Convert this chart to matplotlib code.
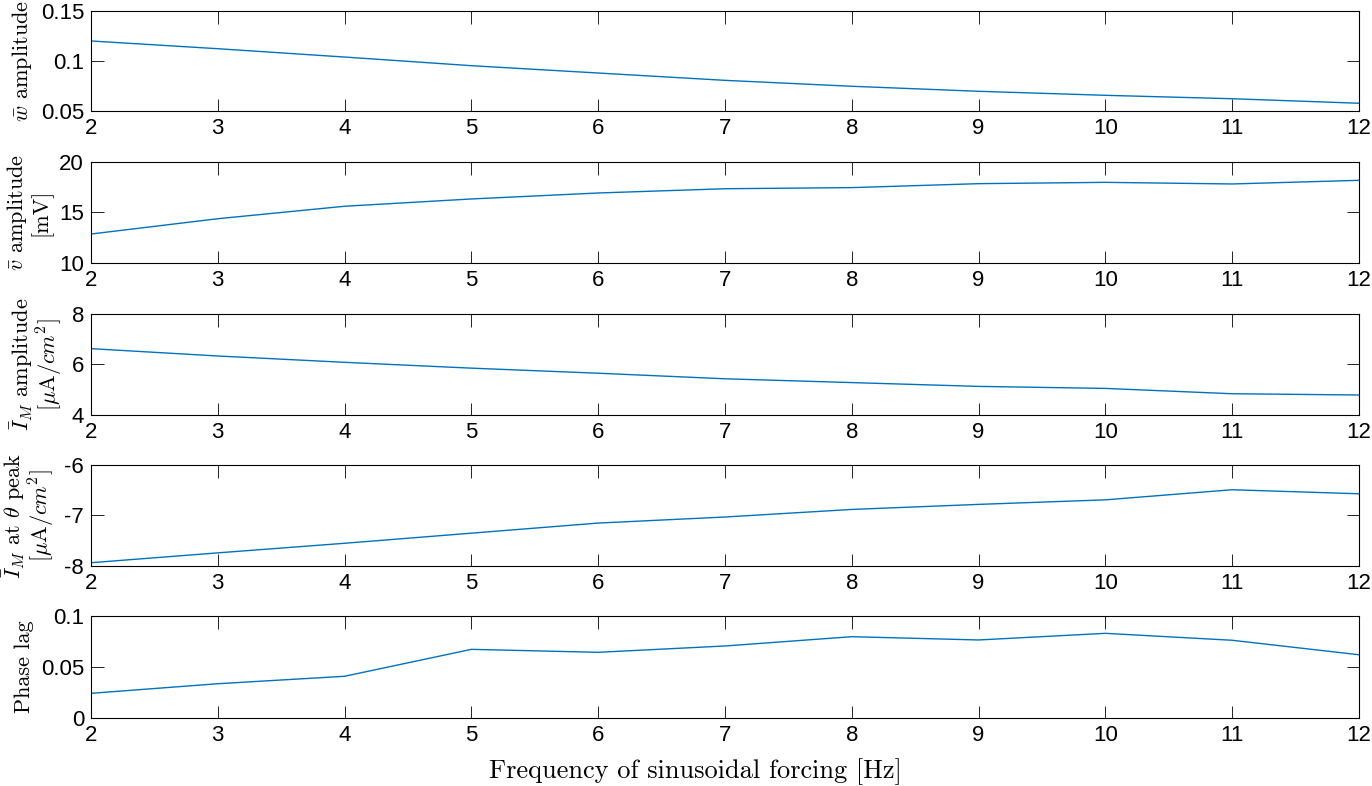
import matplotlib
matplotlib.use("Agg")
import matplotlib.pyplot as plt

freq = [2, 3, 4, 5, 6, 7, 8, 9, 10, 11, 12]
w_amp = [0.1197, 0.112, 0.1037, 0.0951, 0.0878, 0.0805, 0.0746, 0.0696, 0.0656, 0.0622, 0.0577]
v_amp = [12.86, 14.37, 15.6, 16.32, 16.91, 17.33, 17.44, 17.83, 17.96, 17.8, 18.16]
im_amp = [6.62, 6.33, 6.08, 5.85, 5.65, 5.43, 5.28, 5.13, 5.05, 4.84, 4.79]
im_peak = [-7.935, -7.74, -7.55, -7.35, -7.15, -7.03, -6.88, -6.78, -6.69, -6.49, -6.57]
phase_lag = [0.0242, 0.0336, 0.0409, 0.0673, 0.0644, 0.0706, 0.0797, 0.0765, 0.083, 0.0762, 0.062]

series = [w_amp, v_amp, im_amp, im_peak, phase_lag]
ylims = [(0.05, 0.15), (10, 20), (4, 8), (-8, -6), (0, 0.1)]
yticks = [[0.05, 0.1, 0.15], [10, 15, 20], [4, 6, 8], [-8, -7, -6], [0, 0.05, 0.1]]
yticklabels = [["0.05", "0.1", "0.15"], ["10", "15", "20"], ["4", "6", "8"],
               ["-8", "-7", "-6"], ["0", "0.05", "0.1"]]
ylabels = [r"$\bar{w}$ amplitude",
           "$\\bar{v}$ amplitude\n[mV]",
           "$\\bar{I}_M$ amplitude\n[$\\mu$A$/cm^2$]",
           "$\\bar{I}_M$ at $\\theta$ peak\n[$\\mu$A$/cm^2$]",
           "Phase lag"]
xlabel = "Frequency of sinusoidal forcing [Hz]"

plt.rcParams['mathtext.fontset'] = 'cm'
plt.rcParams['axes.unicode_minus'] = False

fig = plt.figure(figsize=(13.72, 7.86), dpi=100)
left, right = 0.0663, 0.9905
bounds = [(0.8588, 0.9866), (0.6654, 0.7943), (0.4720, 0.6009), (0.2799, 0.4084), (0.0865, 0.2163)]
color = '#0072BD'
lab_font = dict(family='cmr10', size=16)
xlab_font = dict(family='cmr10', size=19)
tick_font = dict(family='Liberation Sans', size=16)

for i, (b, t) in enumerate(bounds):
    ax = fig.add_axes([left, b, right - left, t - b])
    ax.plot(freq, series[i], color=color, lw=1.0)
    ax.set_xlim(2, 12)
    ax.set_ylim(*ylims[i])
    ax.set_xticks(freq)
    ax.set_xticklabels([str(f) for f in freq], **tick_font)
    ax.set_yticks(yticks[i])
    ax.set_yticklabels(yticklabels[i], **tick_font)
    ax.tick_params(direction='in', length=9, width=0.6, top=True, right=True, pad=5)
    for s in ax.spines.values():
        s.set_linewidth(0.8)
    ax.set_ylabel(ylabels[i], fontdict=lab_font, linespacing=1.0, labelpad=5)
    if i == 4:
        ax.set_xlabel(xlabel, fontdict=xlab_font, labelpad=9)
        ax.xaxis.label.set_x(0.477)

fig.savefig("out.png", dpi=100)
